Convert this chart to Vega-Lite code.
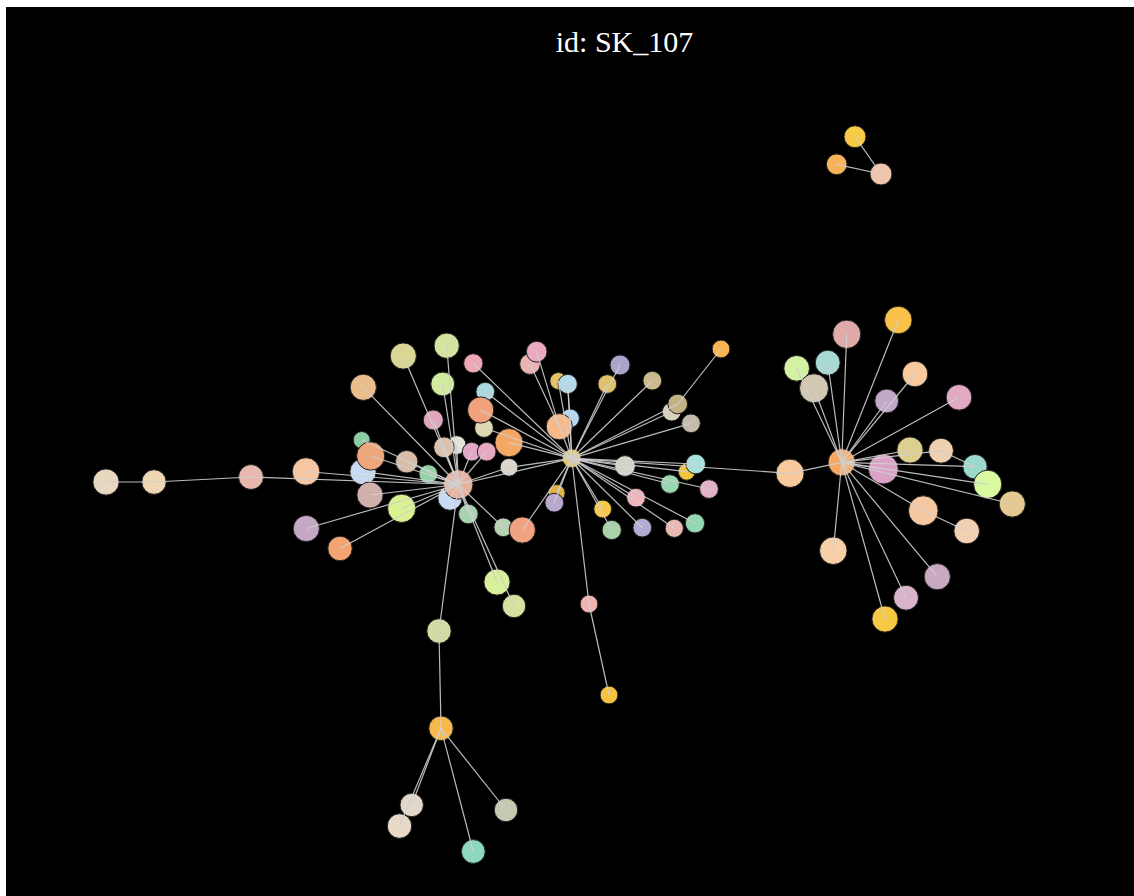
{
  "$schema": "https://vega.github.io/schema/vega-lite/v6.json",
  "autosize": {"type": "fit", "contains": "padding"},
  "width": 1134,
  "height": 896,
  "padding": {"left": 6, "top": 7, "right": 0, "bottom": 0},
  "background": "#ffffff",
  "config": {"view": {"fill": "#000000", "stroke": null}},
  "datasets": {
    "titles": [{"label": "id: SK_107", "tx": 624.5, "ty": 51.5}],
    "nodes": [
      {"id": "n33", "x": 361.7, "y": 440, "r": 9},
      {"id": "n17", "x": 363, "y": 471.7, "r": 14},
      {"id": "n21", "x": 450, "y": 498, "r": 13},
      {"id": "n8", "x": 484, "y": 428, "r": 10},
      {"id": "n13", "x": 456.7, "y": 445, "r": 10},
      {"id": "n45", "x": 558.3, "y": 381, "r": 9},
      {"id": "n54", "x": 570, "y": 418.3, "r": 10},
      {"id": "n58", "x": 686.7, "y": 471.7, "r": 9},
      {"id": "n63", "x": 556.7, "y": 493, "r": 9},
      {"id": "n52", "x": 671.7, "y": 411.7, "r": 10},
      {"id": "n44", "x": 530, "y": 364, "r": 11},
      {"id": "n1", "x": 458.3, "y": 484.5, "r": 15.7},
      {"id": "n2", "x": 446.7, "y": 345.7, "r": 13.5},
      {"id": "n3", "x": 403.3, "y": 356, "r": 14},
      {"id": "n4", "x": 442.7, "y": 384, "r": 12.7},
      {"id": "n5", "x": 473.3, "y": 363.3, "r": 10.3},
      {"id": "n6", "x": 363.3, "y": 387.3, "r": 14},
      {"id": "n7", "x": 485.3, "y": 391.7, "r": 10},
      {"id": "n9", "x": 480.7, "y": 410, "r": 14},
      {"id": "n10", "x": 433.3, "y": 420, "r": 10.7},
      {"id": "n11", "x": 509, "y": 442.7, "r": 15},
      {"id": "n12", "x": 444, "y": 447.3, "r": 11},
      {"id": "n14", "x": 471.7, "y": 451.7, "r": 10},
      {"id": "n15", "x": 486.7, "y": 451.7, "r": 10},
      {"id": "n16", "x": 370.7, "y": 456, "r": 15},
      {"id": "n18", "x": 406.7, "y": 461.7, "r": 12},
      {"id": "n19", "x": 428.3, "y": 474, "r": 10},
      {"id": "n20", "x": 509, "y": 467.3, "r": 9.5},
      {"id": "n22", "x": 370, "y": 495, "r": 14},
      {"id": "n23", "x": 401.7, "y": 508.3, "r": 15},
      {"id": "n24", "x": 468.3, "y": 514, "r": 10.5},
      {"id": "n25", "x": 503.3, "y": 527.3, "r": 10},
      {"id": "n26", "x": 522.3, "y": 530, "r": 14},
      {"id": "n27", "x": 340, "y": 548.5, "r": 13},
      {"id": "n28", "x": 306.3, "y": 528.5, "r": 14},
      {"id": "n29", "x": 306, "y": 471.5, "r": 14.7},
      {"id": "n30", "x": 251, "y": 477, "r": 13.3},
      {"id": "n31", "x": 154, "y": 482, "r": 13},
      {"id": "n32", "x": 106, "y": 482, "r": 14},
      {"id": "n34", "x": 497, "y": 582, "r": 14},
      {"id": "n35", "x": 514, "y": 606, "r": 12.5},
      {"id": "n36", "x": 439, "y": 631, "r": 13},
      {"id": "n37", "x": 441, "y": 728.3, "r": 13},
      {"id": "n38", "x": 411.7, "y": 805, "r": 12.5},
      {"id": "n39", "x": 399.5, "y": 826, "r": 13},
      {"id": "n40", "x": 473.3, "y": 851.5, "r": 12.7},
      {"id": "n41", "x": 506, "y": 810, "r": 12.5},
      {"id": "n42", "x": 571.7, "y": 458.3, "r": 10},
      {"id": "n43", "x": 536.7, "y": 351.7, "r": 11},
      {"id": "n46", "x": 567.7, "y": 384, "r": 10.3},
      {"id": "n47", "x": 620, "y": 365, "r": 10.7},
      {"id": "n48", "x": 607.3, "y": 384, "r": 10},
      {"id": "n49", "x": 652.3, "y": 380.7, "r": 10},
      {"id": "n50", "x": 721, "y": 349, "r": 9.5},
      {"id": "n51", "x": 677.7, "y": 404, "r": 10.5},
      {"id": "n53", "x": 691, "y": 423.3, "r": 10},
      {"id": "n55", "x": 559.3, "y": 426.7, "r": 14},
      {"id": "n56", "x": 625, "y": 466, "r": 11},
      {"id": "n57", "x": 695.7, "y": 464, "r": 10.5},
      {"id": "n59", "x": 670, "y": 484, "r": 10},
      {"id": "n60", "x": 709, "y": 489, "r": 10},
      {"id": "n61", "x": 636, "y": 497.7, "r": 10},
      {"id": "n62", "x": 554.3, "y": 502.7, "r": 10},
      {"id": "n64", "x": 602.7, "y": 509, "r": 9.5},
      {"id": "n65", "x": 611.7, "y": 530, "r": 10.3},
      {"id": "n66", "x": 642.3, "y": 527.7, "r": 10},
      {"id": "n67", "x": 674.3, "y": 528.3, "r": 9.7},
      {"id": "n68", "x": 695, "y": 523.3, "r": 10.3},
      {"id": "n69", "x": 589, "y": 604, "r": 9.5},
      {"id": "n70", "x": 609, "y": 695, "r": 9.5},
      {"id": "n71", "x": 841.7, "y": 462.3, "r": 14.5},
      {"id": "n72", "x": 790, "y": 473.3, "r": 15},
      {"id": "n73", "x": 898.3, "y": 320, "r": 14.7},
      {"id": "n74", "x": 846.7, "y": 334.3, "r": 15},
      {"id": "n75", "x": 796.7, "y": 368.3, "r": 13.7},
      {"id": "n76", "x": 827.7, "y": 362.7, "r": 13.3},
      {"id": "n77", "x": 814, "y": 388.3, "r": 15.5},
      {"id": "n78", "x": 915, "y": 374, "r": 13.7},
      {"id": "n79", "x": 886.7, "y": 401, "r": 12.7},
      {"id": "n80", "x": 959, "y": 397.3, "r": 13.7},
      {"id": "n81", "x": 910, "y": 450, "r": 14},
      {"id": "n82", "x": 941, "y": 450.7, "r": 13.3},
      {"id": "n83", "x": 883.3, "y": 469, "r": 16},
      {"id": "n84", "x": 975, "y": 466.7, "r": 13},
      {"id": "n85", "x": 987.7, "y": 484.3, "r": 15},
      {"id": "n86", "x": 1012.3, "y": 504, "r": 14},
      {"id": "n87", "x": 923.3, "y": 510.7, "r": 15.8},
      {"id": "n88", "x": 966.7, "y": 531, "r": 13.7},
      {"id": "n89", "x": 833.3, "y": 550.7, "r": 14.7},
      {"id": "n90", "x": 937.3, "y": 576.7, "r": 14},
      {"id": "n91", "x": 906, "y": 597.7, "r": 13.3},
      {"id": "n92", "x": 885, "y": 619, "r": 14},
      {"id": "n93", "x": 855, "y": 136.7, "r": 11.7},
      {"id": "n94", "x": 836.7, "y": 164.3, "r": 11},
      {"id": "n95", "x": 881, "y": 174, "r": 11.7}
    ],
    "edges": [
      {"s": "n1", "t": "n2"}, {"s": "n1", "t": "n3"}, {"s": "n1", "t": "n4"}, {"s": "n1", "t": "n6"},
      {"s": "n1", "t": "n10"}, {"s": "n1", "t": "n12"}, {"s": "n1", "t": "n13"}, {"s": "n1", "t": "n14"},
      {"s": "n1", "t": "n15"}, {"s": "n1", "t": "n16"}, {"s": "n1", "t": "n17"}, {"s": "n1", "t": "n18"},
      {"s": "n1", "t": "n19"}, {"s": "n1", "t": "n20"}, {"s": "n1", "t": "n21"}, {"s": "n1", "t": "n22"},
      {"s": "n1", "t": "n23"}, {"s": "n1", "t": "n24"}, {"s": "n1", "t": "n25"}, {"s": "n1", "t": "n27"},
      {"s": "n1", "t": "n28"}, {"s": "n1", "t": "n29"}, {"s": "n1", "t": "n30"}, {"s": "n1", "t": "n33"},
      {"s": "n1", "t": "n34"}, {"s": "n1", "t": "n35"}, {"s": "n1", "t": "n36"},
      {"s": "n32", "t": "n31"}, {"s": "n31", "t": "n30"},
      {"s": "n36", "t": "n37"}, {"s": "n37", "t": "n38"}, {"s": "n37", "t": "n39"}, {"s": "n37", "t": "n40"}, {"s": "n37", "t": "n41"},
      {"s": "n42", "t": "n1"}, {"s": "n42", "t": "n5"}, {"s": "n42", "t": "n7"}, {"s": "n42", "t": "n8"},
      {"s": "n42", "t": "n9"}, {"s": "n42", "t": "n11"}, {"s": "n42", "t": "n26"}, {"s": "n42", "t": "n20"},
      {"s": "n43", "t": "n55"}, {"s": "n44", "t": "n55"}, {"s": "n42", "t": "n45"}, {"s": "n42", "t": "n46"},
      {"s": "n46", "t": "n54"}, {"s": "n42", "t": "n54"}, {"s": "n42", "t": "n47"}, {"s": "n42", "t": "n48"},
      {"s": "n42", "t": "n49"}, {"s": "n42", "t": "n51"}, {"s": "n42", "t": "n52"}, {"s": "n42", "t": "n53"},
      {"s": "n42", "t": "n55"}, {"s": "n42", "t": "n56"}, {"s": "n42", "t": "n57"}, {"s": "n42", "t": "n58"},
      {"s": "n42", "t": "n59"}, {"s": "n42", "t": "n60"}, {"s": "n42", "t": "n61"}, {"s": "n42", "t": "n62"},
      {"s": "n42", "t": "n63"}, {"s": "n42", "t": "n64"}, {"s": "n42", "t": "n65"}, {"s": "n42", "t": "n66"},
      {"s": "n42", "t": "n67"}, {"s": "n42", "t": "n68"}, {"s": "n42", "t": "n69"}, {"s": "n69", "t": "n70"},
      {"s": "n50", "t": "n51"}, {"s": "n42", "t": "n72"},
      {"s": "n71", "t": "n72"}, {"s": "n71", "t": "n73"}, {"s": "n71", "t": "n74"}, {"s": "n71", "t": "n75"},
      {"s": "n71", "t": "n76"}, {"s": "n71", "t": "n77"}, {"s": "n71", "t": "n78"}, {"s": "n71", "t": "n79"},
      {"s": "n71", "t": "n80"}, {"s": "n71", "t": "n81"}, {"s": "n71", "t": "n82"}, {"s": "n71", "t": "n83"},
      {"s": "n71", "t": "n84"}, {"s": "n71", "t": "n85"}, {"s": "n71", "t": "n86"}, {"s": "n71", "t": "n87"},
      {"s": "n71", "t": "n89"}, {"s": "n71", "t": "n90"}, {"s": "n71", "t": "n91"}, {"s": "n71", "t": "n92"},
      {"s": "n82", "t": "n84"}, {"s": "n87", "t": "n88"},
      {"s": "n93", "t": "n95"}, {"s": "n94", "t": "n95"}
    ]
  },
  "layer": [
    {
      "data": {"name": "nodes"},
      "mark": {"type": "point", "shape": "circle", "filled": true, "opacity": 1, "stroke": "#1e1e1e", "strokeWidth": 1},
      "encoding": {
        "x": {"field": "x", "type": "quantitative", "scale": {"domain": [6, 1134], "nice": false, "zero": false}, "axis": null},
        "y": {"field": "y", "type": "quantitative", "scale": {"domain": [7, 896], "nice": false, "zero": false, "reverse": true}, "axis": null},
        "size": {"field": "r", "type": "quantitative", "scale": {"type": "pow", "exponent": 2, "domain": [0, 16], "range": [0, 900]}, "legend": null},
        "color": {
          "field": "id", "type": "nominal", "legend": null,
          "scale": {
            "domain": ["n33","n17","n21","n8","n13","n45","n54","n58","n63","n52","n44",
                       "n1","n2","n3","n4","n5","n6","n7","n9","n10","n11","n12","n14","n15","n16","n18","n19","n20","n22","n23","n24","n25","n26","n27","n28","n29","n30","n31","n32","n34","n35","n36","n37","n38","n39","n40","n41",
                       "n42","n43","n46","n47","n48","n49","n50","n51","n53","n55","n56","n57","n59","n60","n61","n62","n64","n65","n66","n67","n68","n69","n70",
                       "n71","n72","n73","n74","n75","n76","n77","n78","n79","n80","n81","n82","n83","n84","n85","n86","n87","n88","n89","n90","n91","n92","n93","n94","n95"],
            "range": ["#8fcba4","#c7dbf4","#c8daf4","#dcd9b3","#e3e3dc","#e5c465","#b2d9f1","#f1c53f","#e2b43f","#d9d2ba","#e9b3b4",
                      "#e9b09e","#d4e3a0","#d9d793","#d3eba0","#eda8b3","#e8bf8c","#a9d9df","#f1a27c","#dfa5bd","#f5a864","#dcc2ae","#e2a8c4","#e7a9c1","#eea67c","#d8bca8","#93d3a8","#dcd6cc","#d1afab","#d9f28f","#a8d3b0","#b8d3b3","#f0a281","#f4a472","#c4a8c4","#f6c6a2","#e8b7ae","#efd7b4","#e8d8c0","#d8ef9c","#d8e0a2","#d3dba5","#f7b94c","#e2d7ca","#e9d9c8","#8fd8c0","#c4c9b2",
                      "#e7c55a","#e9aac0","#b4dae9","#a9a4cc","#e0c368","#cbb98f","#f8b452","#c3b383","#c4bbab","#f8b98a","#d8d5cb","#a9e1df","#9bd7b0","#e2b3c8","#f0b3bb","#b9a9cf","#f8c849","#a9d2a9","#b3abd2","#e9bab1","#93d8b1","#f0b1b3","#f6c242",
                      "#f7a964","#f7c99c","#f8c24a","#e0aaa9","#d3f2a3","#a8dad3","#d2c7b0","#f8c99e","#c1a8c9","#e1a9c2","#ddd08f","#efd0b0","#d9a2c6","#9bd9cb","#d9f9a1","#e5c990","#f6c8a2","#f1d1b1","#f7d0a7","#c8a9c1","#d9b3c9","#f6c944","#f8cb46","#f6b45a","#f1c4ac"]
          }
        }
      }
    },
    {
      "data": {"name": "edges"},
      "transform": [
        {"lookup": "s", "from": {"data": {"name": "nodes"}, "key": "id", "fields": ["x", "y"]}, "as": ["sx", "sy"]},
        {"lookup": "t", "from": {"data": {"name": "nodes"}, "key": "id", "fields": ["x", "y"]}, "as": ["tx", "ty"]}
      ],
      "mark": {"type": "rule", "color": "#cfcfcf", "strokeWidth": 1.2, "opacity": 0.9},
      "encoding": {
        "x": {"field": "sx", "type": "quantitative"},
        "y": {"field": "sy", "type": "quantitative"},
        "x2": {"field": "tx"},
        "y2": {"field": "ty"}
      }
    },
    {
      "data": {"name": "titles"},
      "mark": {"type": "text", "font": "Liberation Serif", "fontSize": 30, "color": "#ffffff", "align": "center", "baseline": "alphabetic"},
      "encoding": {
        "x": {"field": "tx", "type": "quantitative"},
        "y": {"field": "ty", "type": "quantitative"},
        "text": {"field": "label"}
      }
    }
  ]
}
